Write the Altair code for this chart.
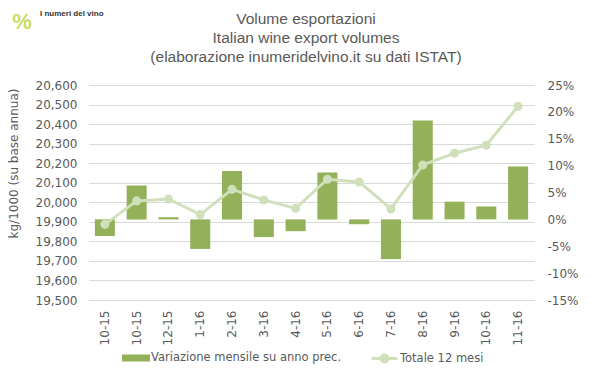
import altair as alt
import pandas as pd

labels = ["10-15", "10-15", "12-15", "1-16", "2-16", "3-16", "4-16", "5-16",
          "6-16", "7-16", "8-16", "9-16", "10-16", "11-16"]
variazione = [-3.1, 6.3, 0.4, -5.5, 9.0, -3.3, -2.2, 8.7, -0.9, -7.4, 18.4, 3.3, 2.4, 9.85]
totale = [19887, 20007, 20017, 19937, 20066, 20012, 19969, 20118, 20104, 19966,
          20191, 20251, 20292, 20491]
title_lines = ["Volume esportazioni", "Italian wine export volumes",
               "(elaborazione inumeridelvino.it su dati ISTAT)"]

df = pd.DataFrame({"idx": list(range(len(labels))), "label": labels,
                   "pct": variazione, "tot": totale})

BAR = "#92b158"
LINE = "#cfe0bb"
TXT = "#595959"
FONT = "DejaVu Sans"

label_expr = "[" + ",".join("'%s'" % l for l in labels) + "][datum.value]"

x = alt.X("idx:O", title=None,
          scale=alt.Scale(paddingInner=0.37, paddingOuter=0.185),
          axis=alt.Axis(labelExpr=label_expr, labelAngle=-90, domain=False, ticks=False,
                        labelPadding=10, labelFont=FONT, labelFontSize=12, labelColor=TXT))

bar_name = "Variazione mensile su anno prec."
line_name = "Totale 12 mesi"

bars = alt.Chart(df).mark_bar().encode(
    x=x,
    y=alt.Y("pct:Q", title=None,
            scale=alt.Scale(domain=[-15, 25], nice=False, zero=False),
            axis=alt.Axis(orient="right", values=list(range(-15, 30, 5)),
                          labelExpr="datum.value + '%'", grid=False, domain=False,
                          ticks=False, labelPadding=13, labelFont=FONT,
                          labelFontSize=12, labelColor=TXT)),
    fill=alt.Fill("series:N", scale=alt.Scale(domain=[bar_name], range=[BAR]),
                  legend=alt.Legend(title=None, orient="none", legendX=33, legendY=259,
                                    symbolType="M-1,-0.25H1V0.25H-1Z", symbolSize=784,
                                    symbolStrokeWidth=0, labelFont=FONT, labelFontSize=11.5,
                                    labelColor=TXT, labelOffset=1, labelLimit=400)),
).transform_calculate(series="'%s'" % bar_name)

line = alt.Chart(df).mark_line(strokeWidth=3, point=alt.OverlayMarkDef(
    filled=True, fill=LINE, stroke=LINE, size=50)).encode(
    x=x,
    y=alt.Y("tot:Q", title="kg/1000 (su base annua)",
            scale=alt.Scale(domain=[19500, 20600], nice=False, zero=False),
            axis=alt.Axis(orient="left", values=list(range(19500, 20700, 100)),
                          format=",.0f", grid=True, gridColor="#d9d9d9", domain=False,
                          ticks=False, labelPadding=12, labelFont=FONT, labelFontSize=12,
                          labelColor=TXT, titleFont=FONT, titleFontSize=12,
                          titleFontWeight="normal", titleColor=TXT,
                          titleX=-69, titleY=78)),
    stroke=alt.Stroke("series:N", scale=alt.Scale(domain=[line_name], range=[LINE]),
                      legend=alt.Legend(title=None, orient="none", legendX=281, legendY=259,
                                        symbolType="M-1,0H1M0.27,0A0.27,0.27,0,1,1,-0.27,0A0.27,0.27,0,1,1,0.27,0",
                                        symbolSize=676, symbolStrokeWidth=3,
                                        symbolFillColor=LINE, labelFont=FONT,
                                        labelFontSize=11.5, labelColor=TXT, labelOffset=1,
                                        labelLimit=400)),
).transform_calculate(series="'%s'" % line_name)

title_df = pd.DataFrame({"t": ["\n".join(title_lines)]})
title = alt.Chart(title_df).mark_text(
    align="center", baseline="top", fontSize=15.5, font="Liberation Sans",
    color=TXT, lineBreak="\n", lineHeight=19
).encode(text="t:N", x=alt.value(217), y=alt.value(-73))

logo_df = pd.DataFrame({"t": ["I numeri del vino"]})
logo = alt.Chart(logo_df).mark_text(
    align="left", baseline="middle", fontSize=8, font="Liberation Sans",
    fontWeight="bold", color="#333333"
).encode(text="t:N", x=alt.value(-49), y=alt.value(-71))
logo_mark = alt.Chart(logo_df).mark_text(
    align="center", baseline="middle", fontSize=22, font="Liberation Sans",
    fontWeight="bold", color="#c9dc62"
).encode(text=alt.value("%"), x=alt.value(-67), y=alt.value(-63))

chart = alt.layer(bars, line, title, logo_mark, logo).resolve_scale(y="independent").properties(
    width=445, height=215,
    autosize=alt.AutoSizeParams(type="none"),
    padding={"left": 81, "top": 77, "right": 57, "bottom": 70},
).configure_view(stroke=None)

chart.save("out.html", embed_options={"renderer": "svg", "actions": False})
